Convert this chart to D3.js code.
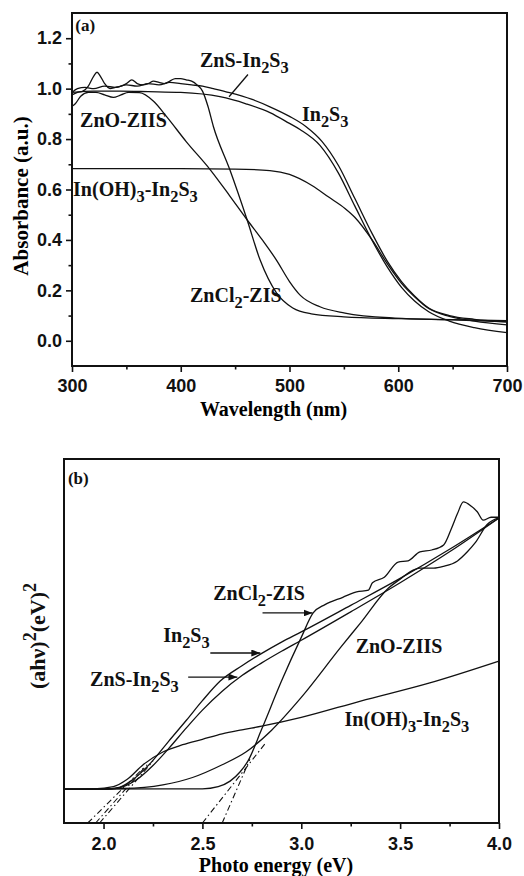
<!DOCTYPE html>
<html>
<head>
<meta charset="utf-8">
<script src="https://cdn.jsdelivr.net/npm/d3@7"></script>
<style>
  body { margin: 0; background: #fff; }
</style>
</head>
<body>
<div id="d3-container"></div>
<script>
// ---- panel (a): absorbance vs wavelength ----
const wlZnS = [300, 305, 312, 320, 330, 340, 350, 360, 370, 380, 390, 400, 410, 420, 430, 445, 465, 482, 500, 515, 530, 545, 560, 576, 590, 603, 615, 628, 647, 670, 700];
const absZnS = [0.985, 1.0, 1.005, 1.0, 1.01, 1.005, 1.015, 1.01, 1.02, 1.015, 1.025, 1.02, 1.015, 1.01, 1.0, 0.984, 0.958, 0.928, 0.89, 0.85, 0.79, 0.695, 0.565, 0.425, 0.315, 0.235, 0.178, 0.13, 0.1, 0.085, 0.075];

const wlIn2S3 = [300, 320, 344, 370, 400, 436, 460, 482, 500, 510, 528, 545, 560, 576, 590, 603, 615, 628, 647, 670, 700];
const absIn2S3 = [0.985, 0.99, 0.99, 0.988, 0.985, 0.968, 0.94, 0.905, 0.862, 0.837, 0.775, 0.665, 0.535, 0.398, 0.292, 0.212, 0.158, 0.115, 0.078, 0.052, 0.032];

const wlInOH = [300, 350, 400, 450, 482, 500, 521, 536, 551, 560, 576, 590, 603, 615, 628, 647, 670, 700];
const absInOH = [0.683, 0.683, 0.683, 0.681, 0.675, 0.66, 0.615, 0.57, 0.525, 0.49, 0.40, 0.305, 0.228, 0.175, 0.128, 0.097, 0.078, 0.063];

const wlZnCl2 = [300, 305, 310, 315, 320, 323, 326, 330, 335, 340, 345, 350, 355, 360, 365, 370, 375, 380, 385, 390, 395, 400, 405, 410, 415, 420, 425, 430, 445, 461, 473, 488, 503, 520, 550, 600, 650, 700];
const absZnCl2 = [0.975, 0.985, 0.99, 1.01, 1.05, 1.065, 1.05, 1.02, 1.0, 1.005, 1.01, 1.02, 1.035, 1.02, 1.015, 1.02, 1.03, 1.025, 1.02, 1.03, 1.04, 1.04, 1.035, 1.03, 1.015, 0.99, 0.93, 0.85, 0.68, 0.48, 0.32, 0.19, 0.13, 0.107, 0.095, 0.088, 0.084, 0.08];

const wlZnO = [300, 303, 308, 315, 322, 330, 338, 345, 352, 362, 375, 387, 405, 427, 445, 461, 475, 488, 500, 510, 528, 551, 597, 650, 700];
const absZnO = [0.93, 0.94, 0.97, 0.985, 0.985, 0.975, 0.965, 0.975, 0.985, 0.984, 0.95, 0.889, 0.79, 0.679, 0.575, 0.48, 0.4, 0.32, 0.235, 0.18, 0.135, 0.11, 0.09, 0.083, 0.075];

const wlTicks = [300, 400, 500, 600, 700];
const wlMinor = [350, 450, 550, 650];
const absTicks = [0.0, 0.2, 0.4, 0.6, 0.8, 1.0, 1.2];
const absMinor = [0.1, 0.3, 0.5, 0.7, 0.9, 1.1];

// labels of (a): text, wavelength, absorbance
const labelsA = [
  ['(a)', 303, 1.23],
  ['ZnS-In_2S_3', 417.7, 1.087],
  ['In_2S_3', 511.5, 0.873],
  ['ZnO-ZIIS', 307.4, 0.849],
  ['In(OH)_3-In_2S_3', 301, 0.575],
  ['ZnCl_2-ZIS', 408.5, 0.155]
];
const pointerA = [[461.8, 1.056], [444.4, 0.968]];

// ---- panel (b): Tauc plot ----
const eVIn2S3 = [1.8, 2.0, 2.08, 2.15, 2.24, 2.33, 2.42, 2.5, 2.59, 2.7, 2.8, 2.9, 3.0, 3.25, 3.5, 3.75, 4.0];
const ahIn2S3 = [0.093, 0.093, 0.098, 0.12, 0.166, 0.225, 0.283, 0.336, 0.39, 0.432, 0.466, 0.497, 0.525, 0.598, 0.672, 0.752, 0.838];

const eVZnS = [1.8, 2.02, 2.1, 2.17, 2.25, 2.33, 2.42, 2.5, 2.6, 2.7, 2.8, 2.9, 3.0, 3.25, 3.5, 3.75, 4.0];
const ahZnS = [0.093, 0.093, 0.1, 0.12, 0.158, 0.205, 0.262, 0.31, 0.362, 0.405, 0.44, 0.472, 0.502, 0.58, 0.66, 0.745, 0.838];

const eVInOH = [1.8, 1.95, 2.05, 2.12, 2.2, 2.3, 2.4, 2.5, 2.6, 2.7, 2.8, 3.0, 3.3, 3.65, 4.0];
const ahInOH = [0.093, 0.094, 0.1, 0.12, 0.16, 0.195, 0.215, 0.23, 0.245, 0.256, 0.266, 0.29, 0.335, 0.385, 0.445];

const eVZnCl2 = [1.8, 2.5, 2.58, 2.64, 2.69, 2.73, 2.8, 2.9, 3.0, 3.06, 3.12, 3.21, 3.28, 3.34, 3.36, 3.42, 3.49, 3.54, 3.6, 3.66, 3.72, 3.76, 3.79, 3.82, 3.86, 3.89, 3.92, 3.96, 4.0];
const ahZnCl2 = [0.093, 0.094, 0.1, 0.115, 0.14, 0.17, 0.258, 0.39, 0.51, 0.577, 0.6, 0.62, 0.635, 0.64, 0.66, 0.675, 0.717, 0.72, 0.745, 0.75, 0.764, 0.81, 0.85, 0.882, 0.87, 0.855, 0.832, 0.84, 0.84];

const eVZnO = [1.8, 2.1, 2.3, 2.45, 2.6, 2.72, 2.85, 3.0, 3.2, 3.3, 3.44, 3.5, 3.55, 3.6, 3.67, 3.72, 3.79, 3.84, 3.88, 3.94, 4.0];
const ahZnO = [0.093, 0.095, 0.105, 0.125, 0.16, 0.195, 0.255, 0.345, 0.483, 0.55, 0.645, 0.67, 0.69, 0.7, 0.7, 0.705, 0.72, 0.745, 0.77, 0.82, 0.838];

// dash-dot extrapolations (band gap intercepts)
const tangentX = [[1.92, 2.2], [1.96, 2.22], [1.98, 2.25], [2.5, 2.82], [2.6, 2.74]];
const tangentY = [[0, 0.15], [0, 0.16], [0, 0.17], [0, 0.22], [0, 0.175]];

const eVTicks = [2.0, 2.5, 3.0, 3.5, 4.0];
const eVMinor = [2.25, 2.75, 3.25, 3.75];

const labelsB = [
  ['(b)', 1.82, 0.931],
  ['ZnCl_2-ZIS', 2.555, 0.613],
  ['In_2S_3', 2.302, 0.497],
  ['ZnS-In_2S_3', 1.932, 0.376],
  ['ZnO-ZIIS', 3.275, 0.467],
  ['In(OH)_3-In_2S_3', 3.219, 0.266]
];
const arrowsB = [
  [[2.804, 0.577], [3.057, 0.577]],
  [[2.54, 0.467], [2.793, 0.467]],
  [[2.428, 0.401], [2.677, 0.401]]
];

const width = 524;
const height = 876;
const serif = '"Liberation Serif", "Times New Roman", serif';
const sans = '"Liberation Sans", Arial, sans-serif';

const svg = d3.select('#d3-container')
  .append('svg')
  .attr('width', width)
  .attr('height', height);

svg.append('defs').append('marker')
  .attr('id', 'arr')
  .attr('markerUnits', 'userSpaceOnUse')
  .attr('markerWidth', 9).attr('markerHeight', 7)
  .attr('refX', 9).attr('refY', 3.5)
  .attr('orient', 'auto')
  .append('path').attr('d', 'M0,0 L9,3.5 L0,7 z').attr('fill', '#111');

// text with _x subscripts and ^x superscripts
function rich(t, str, size) {
  const tokens = [];
  for (let i = 0; i < str.length; i++) {
    const c = str[i];
    if ((c === '_' || c === '^') && i + 1 < str.length) {
      tokens.push({ t: str[i + 1], s: c === '_' ? 1 : -1 });
      i++;
    } else if (tokens.length && tokens[tokens.length - 1].s === 0) {
      tokens[tokens.length - 1].t += c;
    } else {
      tokens.push({ t: c, s: 0 });
    }
  }
  let shift = 0;
  tokens.forEach(tk => {
    const target = tk.s === 1 ? size * 0.3 : (tk.s === -1 ? -size * 0.42 : 0);
    t.append('tspan')
      .attr('dy', target - shift)
      .attr('font-size', tk.s ? size * 0.82 : size)
      .text(tk.t);
    shift = target;
  });
}

function panel(cfg) {
  const { x, y, series, xTicks, xMinor, yTicks, yMinor, curve } = cfg;
  const g = svg.append('g');
  const [x0, x1] = x.range();
  const [y0, y1] = y.range();

  g.append('g').attr('transform', `translate(0,${y0})`)
    .call(d3.axisBottom(x).tickValues(xTicks).tickSize(6).tickPadding(cfg.xPad).tickFormat(d3.format('.' + cfg.xDec + 'f')));
  g.append('g').attr('transform', `translate(0,${y0})`)
    .call(d3.axisBottom(x).tickValues(xMinor).tickSize(3.5).tickFormat(''));

  if (yTicks) {
    g.append('g').attr('transform', `translate(${x0},0)`)
      .call(d3.axisLeft(y).tickValues(yTicks).tickSize(6).tickPadding(4).tickFormat(d3.format('.1f')));
    g.append('g').attr('transform', `translate(${x0},0)`)
      .call(d3.axisLeft(y).tickValues(yMinor).tickSize(3.5).tickFormat(''));
  }
  g.selectAll('.domain').remove();
  g.selectAll('.tick line').attr('stroke', '#111').attr('stroke-width', 1.6);
  g.selectAll('.tick text')
    .attr('font-family', sans).attr('font-weight', 'bold').attr('font-size', 18).attr('fill', '#111');

  const line = d3.line().x(d => x(d[0])).y(d => y(d[1])).curve(curve);
  g.append('g').selectAll('path')
    .data(series)
    .join('path')
    .attr('d', s => line(d3.zip(s[0], s[1])))
    .attr('fill', 'none')
    .attr('stroke', '#111')
    .attr('stroke-width', 1.3);

  g.append('rect')
    .attr('x', x0).attr('y', y1)
    .attr('width', x1 - x0).attr('height', y0 - y1)
    .attr('fill', 'none').attr('stroke', '#111').attr('stroke-width', 2);

  cfg.labels.forEach(l => {
    const t = g.append('text')
      .attr('x', x(l[1])).attr('y', y(l[2]))
      .attr('font-family', serif).attr('font-weight', 'bold').attr('fill', '#111');
    rich(t, l[0], l[0].startsWith('(') && l[0].length === 3 ? 17 : 20);
  });
  return g;
}

// (a)
const xA = d3.scaleLinear().domain([300, 700]).range([72, 507]);
const yA = d3.scaleLinear().domain([-0.1, 1.3]).range([366, 13]);
const gA = panel({
  x: xA, y: yA,
  series: [[wlZnS, absZnS], [wlIn2S3, absIn2S3], [wlInOH, absInOH], [wlZnCl2, absZnCl2], [wlZnO, absZnO]],
  xTicks: wlTicks, xMinor: wlMinor, yTicks: absTicks, yMinor: absMinor,
  xPad: 7, xDec: 0,
  curve: d3.curveMonotoneX,
  labels: labelsA
});
gA.append('line')
  .attr('x1', xA(pointerA[0][0])).attr('y1', yA(pointerA[0][1]))
  .attr('x2', xA(pointerA[1][0])).attr('y2', yA(pointerA[1][1]))
  .attr('stroke', '#111').attr('stroke-width', 1.3);
gA.append('text')
  .attr('x', (72 + 507) / 2 - 16).attr('y', 416)
  .attr('text-anchor', 'middle')
  .attr('font-family', serif).attr('font-weight', 'bold').attr('font-size', 20)
  .text('Wavelength (nm)');
gA.append('text')
  .attr('transform', 'translate(28,196) rotate(-90)')
  .attr('text-anchor', 'middle')
  .attr('font-family', serif).attr('font-weight', 'bold').attr('font-size', 21)
  .text('Absorbance (a.u.)');

// (b)
const xB = d3.scaleLinear().domain([1.8, 4.0]).range([64, 499]);
const yB = d3.scaleLinear().domain([0, 1]).range([823, 459]);
const gB = panel({
  x: xB, y: yB,
  series: [[eVIn2S3, ahIn2S3], [eVZnS, ahZnS], [eVInOH, ahInOH], [eVZnCl2, ahZnCl2], [eVZnO, ahZnO]],
  xTicks: eVTicks, xMinor: eVMinor,
  xPad: 8, xDec: 1,
  curve: d3.curveMonotoneX,
  labels: labelsB
});
gB.append('g').selectAll('line')
  .data(d3.zip(tangentX, tangentY))
  .join('line')
  .attr('x1', d => xB(d[0][0])).attr('y1', d => yB(d[1][0]))
  .attr('x2', d => xB(d[0][1])).attr('y2', d => yB(d[1][1]))
  .attr('stroke', '#111').attr('stroke-width', 1.1)
  .attr('stroke-dasharray', '6,3,1.5,3');
gB.append('g').selectAll('line')
  .data(arrowsB)
  .join('line')
  .attr('x1', d => xB(d[0][0])).attr('y1', d => yB(d[0][1]))
  .attr('x2', d => xB(d[1][0])).attr('y2', d => yB(d[1][1]))
  .attr('stroke', '#111').attr('stroke-width', 1.3)
  .attr('marker-end', 'url(#arr)');
gB.append('text')
  .attr('x', 276).attr('y', 872)
  .attr('text-anchor', 'middle')
  .attr('font-family', serif).attr('font-weight', 'bold').attr('font-size', 20)
  .text('Photo energy (eV)');
const yLabB = gB.append('text')
  .attr('transform', 'translate(45,636) rotate(-90)')
  .attr('text-anchor', 'middle')
  .attr('font-family', serif).attr('font-weight', 'bold').attr('fill', '#111');
rich(yLabB, '(ahν)^2(eV)^2', 22);
</script>
</body>
</html>
